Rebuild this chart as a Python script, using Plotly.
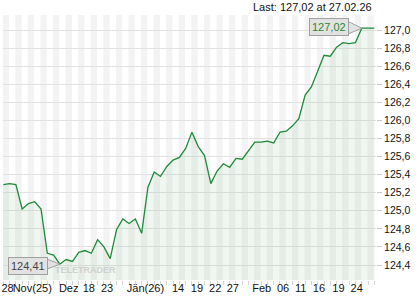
import plotly.graph_objects as go

# --- data (trading-day index -> closing value) ---
values = [
    125.29, 125.30, 125.29, 125.02, 125.08, 125.10, 125.02, 124.53, 124.51, 124.41,
    124.46, 124.44, 124.54, 124.56, 124.53, 124.68, 124.60, 124.47, 124.79, 124.91,
    124.86, 124.91, 124.75, 125.26, 125.43, 125.38, 125.49, 125.56, 125.59, 125.69,
    125.87, 125.71, 125.61, 125.30, 125.44, 125.52, 125.48, 125.58, 125.57, 125.66,
    125.76, 125.76, 125.77, 125.75, 125.87, 125.88, 125.94, 126.02, 126.28, 126.37,
    126.55, 126.72, 126.71, 126.81, 126.86, 126.85, 126.86, 127.02, 127.02, 127.02,
]
x_idx = list(range(len(values)))

x_tick_labels = ["28", "Nov(25)", "Dez", "18", "23", "Jän(26)", "14", "19", "22", "27",
                 "Feb", "06", "11", "16", "19", "24"]
x_tick_pos = [0.67, 4.6, 10.4, 13.6, 16.5, 22.6, 27.8, 30.8, 33.7, 36.5,
              41.1, 44.5, 47.3, 50.2, 53.3, 56.2]

last_value = values[-1]
last_date = "27.02.26"

LINE = "#1f8a3a"
FONT = "Liberation Sans, Arial, sans-serif"

fig = go.Figure()
fig.add_trace(go.Scatter(
    x=x_idx, y=values, mode="lines",
    line=dict(color=LINE, width=1.3),
    fill="tozeroy", fillcolor="rgba(60,140,60,0.08)",
    hoverinfo="skip",
))

shapes = []
# alternating day stripes
for i in range(0, len(values) + 1, 2):
    shapes.append(dict(type="rect", xref="x", yref="paper", x0=i - 0.1, x1=i + 0.9,
                       y0=0, y1=1, fillcolor="#f3f3f3", line=dict(width=0), layer="below"))

# min / max pointers
imin = min(range(len(values)), key=lambda k: values[k])
imax = values.index(max(values))
shapes.append(dict(type="path", xref="x", yref="y", xsizemode="pixel", ysizemode="pixel",
                   xanchor=imin, yanchor=values[imin],
                   path="M -13 5 L 0 0 L -13 -5 Z",
                   fillcolor="#e2e2e2", line=dict(color="#a0a0a0", width=1), layer="above"))
shapes.append(dict(type="path", xref="x", yref="y", xsizemode="pixel", ysizemode="pixel",
                   xanchor=imax, yanchor=values[imax],
                   path="M -14 7 L 0 0 L -14 -6 Z",
                   fillcolor="#e2e2e2", line=dict(color="#a0a0a0", width=1), layer="above"))

def fmt(v):
    return f"{v:.2f}".replace(".", ",")

annotations = [
    dict(xref="paper", yref="paper", x=0.135, y=0.01, xanchor="left", yanchor="bottom",
         showarrow=False, text="<b>TELETRADER</b>",
         font=dict(family=FONT, size=9, color="rgba(200,200,200,0.8)")),
    dict(xref="paper", yref="paper", x=1.0, y=1.0, xanchor="right", yanchor="bottom",
         xshift=-2, yshift=0, showarrow=False,
         text=f"Last: {fmt(last_value)} at {last_date}",
         font=dict(family=FONT, size=11, color="#111")),
    dict(x=imin, y=values[imin], xref="x", yref="y", xanchor="right", yanchor="middle",
         xshift=-12, yshift=-2, showarrow=False, text=fmt(values[imin]),
         bgcolor="#e2e2e2", bordercolor="#a0a0a0", borderwidth=1, borderpad=2,
         font=dict(family=FONT, size=11, color="#444")),
    dict(x=imax, y=values[imax], xref="x", yref="y", xanchor="right", yanchor="middle",
         xshift=-13, yshift=1, showarrow=False, text=fmt(values[imax]),
         bgcolor="#e2e2e2", bordercolor="#a0a0a0", borderwidth=1, borderpad=2,
         font=dict(family=FONT, size=11, color=LINE)),
]

fig.update_layout(
    width=420, height=300,
    margin=dict(l=3, r=44, t=15, b=20, autoexpand=False),
    paper_bgcolor="white", plot_bgcolor="white",
    separators=",.",
    showlegend=False,
    shapes=shapes,
    annotations=annotations,
    font=dict(family=FONT, size=11, color="#111"),
    xaxis=dict(
        range=[-0.05, 59.27], showgrid=False, zeroline=False, showline=False,
        tickmode="array", tickvals=x_tick_pos, ticktext=x_tick_labels,
        ticks="", tickangle=0, automargin=False,
        tickfont=dict(family=FONT, size=11, color="#111"),
        minor=dict(ticks="outside", tickmode="linear", tick0=0, dtick=1,
                   ticklen=4, tickcolor="#d4d4d4", showgrid=False),
    ),
    yaxis=dict(
        side="right", range=[124.234, 127.166], tick0=124.4, dtick=0.2,
        tickformat=".1f", showgrid=True, gridcolor="#e2e2e2", gridwidth=1,
        zeroline=False, showline=False, ticks="outside", ticklen=5, automargin=False,
        tickcolor="#c8c8c8", tickfont=dict(family=FONT, size=10.5, color="#111"),
    ),
)

fig.write_html("out.html")
